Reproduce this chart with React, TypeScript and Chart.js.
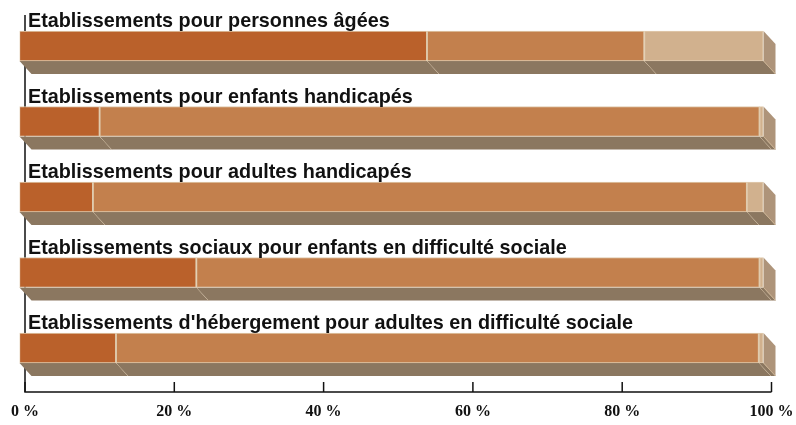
import React, { useEffect, useRef } from "react";
import { Chart, registerables } from "chart.js";

Chart.register(...registerables);

const categories = [
  "Etablissements pour personnes âgées",
  "Etablissements pour enfants handicapés",
  "Etablissements pour adultes handicapés",
  "Etablissements sociaux pour enfants en difficulté sociale",
  "Etablissements d'hébergement pour adultes en difficulté sociale",
];
const seriesA = [54.8, 10.8, 9.9, 23.8, 13.0];
const seriesB = [29.2, 88.7, 87.9, 75.7, 86.4];
const seriesC = [16.0, 0.5, 2.2, 0.5, 0.6];
const tickValues = [0, 20, 40, 60, 80, 100];
const tickLabels = ["0 %", "20 %", "40 %", "60 %", "80 %", "100 %"];

const COLORS = ["#BA612B", "#C3804D", "#D1B18E"];
const BOTTOM = "#8B7760";
const SIDE = "#AE947A";
const EDGE = "#E0CBAE";
const DX = 12;
const DY = 13;

const axisOffset = (v: number) => 5.5 + (v / 100) * 2.5;

const threeD = {
  id: "threeD",
  beforeDatasetsDraw(chart: any) {
    const ctx = chart.ctx;
    const xs = chart.scales.x;
    ctx.save();
    ctx.strokeStyle = "#111";
    ctx.lineWidth = 1.5;
    const axY = 392;
    const x0 = xs.getPixelForValue(0) + axisOffset(0);
    const x1 = xs.getPixelForValue(100) + axisOffset(100);
    ctx.beginPath();
    ctx.moveTo(x0, 15);
    ctx.lineTo(x0, axY);
    ctx.lineTo(x1, axY);
    ctx.stroke();
    tickValues.forEach((v) => {
      const tx = xs.getPixelForValue(v) + axisOffset(v);
      ctx.beginPath();
      ctx.moveTo(tx, axY);
      ctx.lineTo(tx, axY - 10);
      ctx.stroke();
    });
    ctx.fillStyle = "#111";
    ctx.font = "bold 16px 'Liberation Serif'";
    ctx.textAlign = "center";
    ctx.textBaseline = "middle";
    tickValues.forEach((v, i) => {
      const tx = xs.getPixelForValue(v) + axisOffset(v);
      ctx.fillText(tickLabels[i], tx, 412);
    });
    ctx.restore();

    const n = chart.data.datasets.length;
    for (let d = 0; d < n; d++) {
      const meta = chart.getDatasetMeta(d);
      meta.data.forEach((bar: any) => {
        const left = Math.min(bar.base, bar.x);
        const right = Math.max(bar.base, bar.x);
        const top = bar.y - bar.height / 2;
        const bot = bar.y + bar.height / 2;
        ctx.save();
        ctx.fillStyle = BOTTOM;
        ctx.beginPath();
        ctx.moveTo(left, bot);
        ctx.lineTo(right, bot);
        ctx.lineTo(right + DX, bot + DY);
        ctx.lineTo(left + DX, bot + DY);
        ctx.closePath();
        ctx.fill();
        if (d === n - 1) {
          ctx.fillStyle = SIDE;
          ctx.beginPath();
          ctx.moveTo(right, top);
          ctx.lineTo(right + DX, top + DY);
          ctx.lineTo(right + DX, bot + DY);
          ctx.lineTo(right, bot);
          ctx.closePath();
          ctx.fill();
          ctx.strokeStyle = "#C9B08F";
          ctx.lineWidth = 1;
          ctx.beginPath();
          ctx.moveTo(right, bot);
          ctx.lineTo(right + DX, bot + DY);
          ctx.stroke();
        } else {
          ctx.strokeStyle = EDGE;
          ctx.lineWidth = 1;
          ctx.beginPath();
          ctx.moveTo(right, bot);
          ctx.lineTo(right + DX, bot + DY);
          ctx.stroke();
        }
        ctx.restore();
      });
    }
  },
  afterDatasetsDraw(chart: any) {
    const ctx = chart.ctx;
    const meta = chart.getDatasetMeta(0);
    ctx.save();
    ctx.fillStyle = "#111";
    ctx.font = "bold 19.8px 'Liberation Sans'";
    ctx.textAlign = "left";
    ctx.textBaseline = "alphabetic";
    meta.data.forEach((bar: any, i: number) => {
      const top = bar.y - bar.height / 2;
      ctx.fillText(categories[i], 28, top - 4);
    });
    ctx.restore();
  },
};

export default function App() {
  const ref = useRef<HTMLCanvasElement>(null);
  useEffect(() => {
    document.body.style.margin = "0";
    document.body.style.overflow = "hidden";
    if (!ref.current) return;
    const chart = new Chart(ref.current, {
      type: "bar",
      data: {
        labels: categories,
        datasets: [seriesA, seriesB, seriesC].map((data, i) => ({
          label: "Série " + (i + 1),
          data,
          backgroundColor: COLORS[i],
          borderColor: EDGE,
          borderWidth: { top: 1, right: 1.5, bottom: 1, left: 1 },
          borderSkipped: false,
          barThickness: 30,
        })),
      },
      options: {
        indexAxis: "y",
        animation: false,
        responsive: false,
        maintainAspectRatio: false,
        layout: { padding: { left: 19.5, right: 32.5, top: 8.25, bottom: 39.25 } },
        plugins: { legend: { display: false }, tooltip: { enabled: false } },
        scales: {
          x: { stacked: true, min: 0, max: 100, display: false },
          y: { stacked: true, display: false },
        },
      },
      plugins: [threeD],
    });
    return () => chart.destroy();
  }, []);
  return (
    <div style={{ width: 796, height: 425 }}>
      <canvas ref={ref} width={796} height={425} style={{ display: "block" }} />
    </div>
  );
}
